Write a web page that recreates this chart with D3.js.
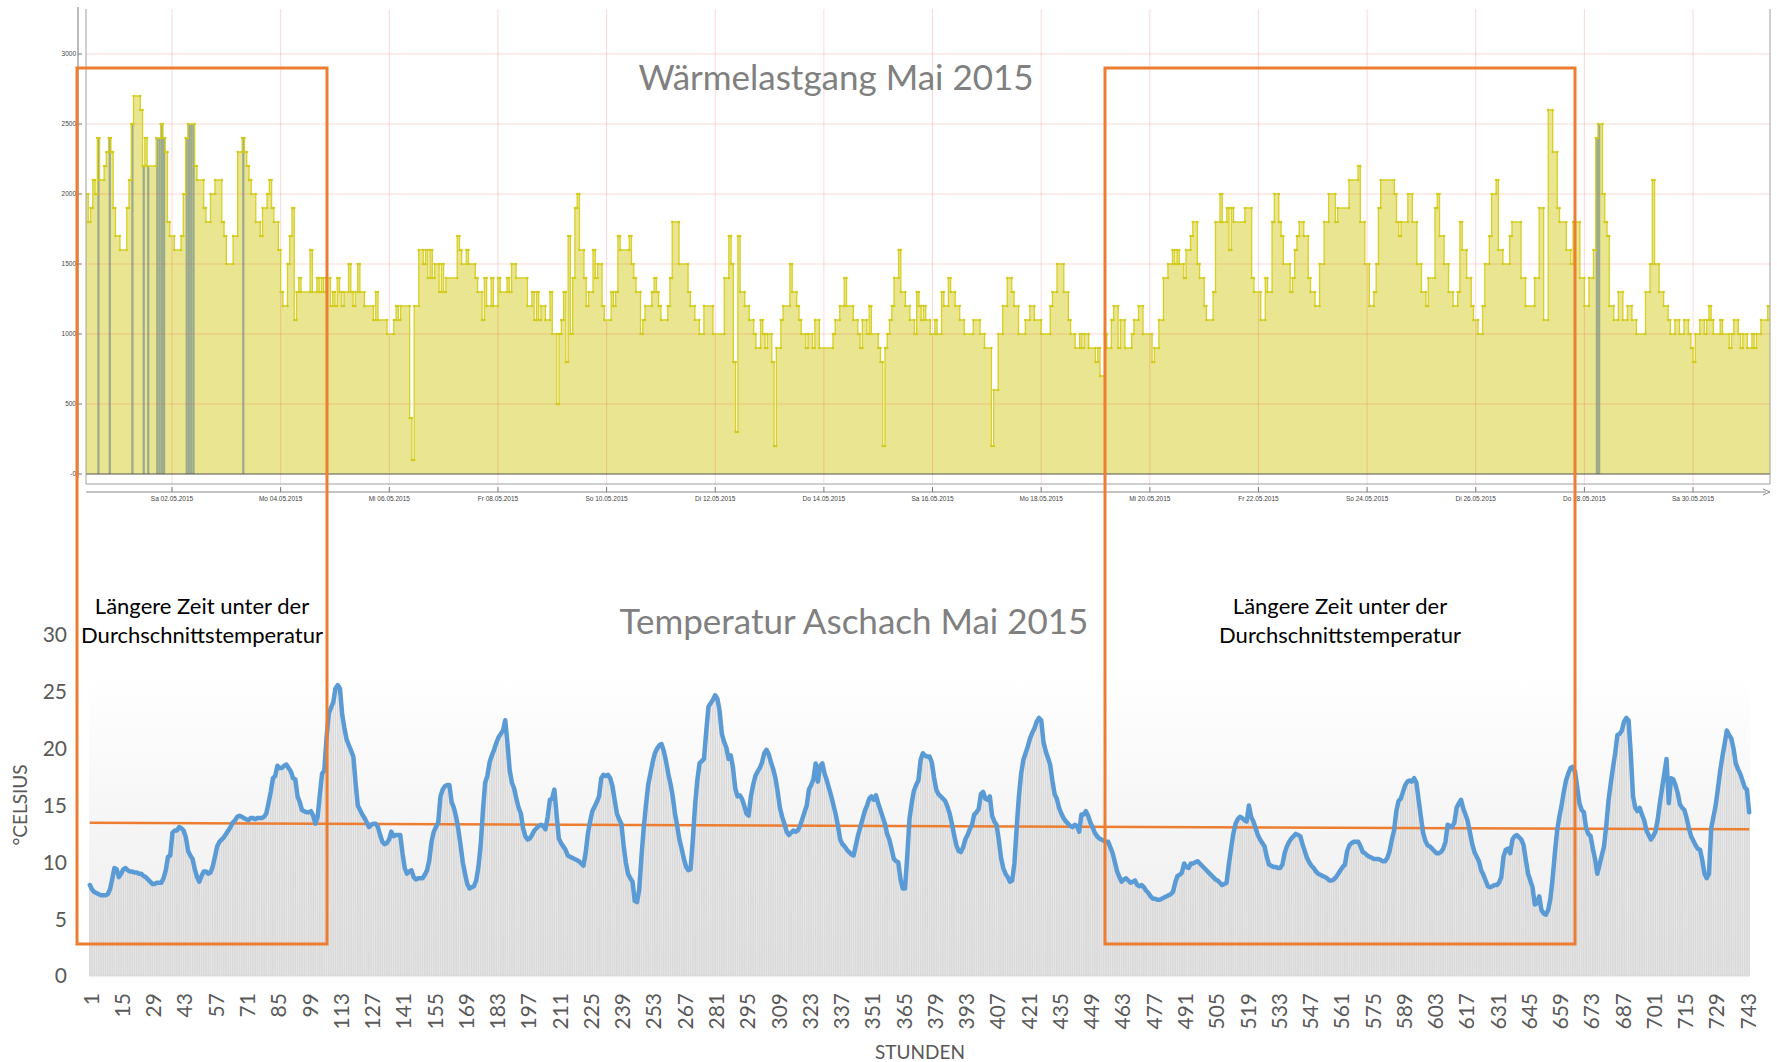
<!DOCTYPE html>
<html>
<head>
<meta charset="utf-8">
<title>Wärmelastgang und Temperatur Mai 2015</title>
<style>
  body { margin: 0; background: #fff; }
  svg { display: block; }
  .tiny { font-family: "Liberation Sans", Arial, sans-serif; font-size: 6.5px; fill: #444; }
</style>
</head>
<body>
<svg width="1777" height="1062"></svg>
<script src="https://d3js.org/d3.v7.min.js"></script>
<script>

// Wärmelast (kW), stündlich ab 30.04.2015 10:00
var heatLoad = [
  2000,1800,1900,2100,2000,2400,2100,2100,2200,2300,2400,2300,1900,1700,1700,1600,1600,1600,1900,2100,2500,2700,2700,2700,
  2600,2200,2400,2200,2200,2200,2200,2400,2400,2500,2400,2300,1800,1700,1700,1600,1600,1600,1700,2000,2400,2500,2500,2500,
  2200,2100,2100,2100,1900,1800,1800,2000,2000,2100,2100,2100,1800,1700,1500,1500,1500,1700,1700,2300,2300,2400,2300,2200,
  2100,2000,2000,1800,1800,1700,1900,1900,2000,2100,1900,1800,1800,1600,1300,1200,1200,1500,1700,1900,1100,1300,1400,1300,
  1300,1300,1300,1600,1300,1300,1400,1300,1400,1300,1400,1400,1200,1300,1200,1400,1300,1200,1300,1300,1500,1300,1200,1300,
  1500,1300,1300,1200,1200,1200,1200,1100,1300,1100,1100,1100,1100,1000,1000,1000,1100,1200,1100,1200,1200,1200,1200,400,
  100,1200,1200,1600,1600,1500,1600,1400,1600,1400,1500,1500,1300,1500,1300,1400,1400,1400,1400,1400,1700,1600,1500,1500,
  1600,1500,1500,1500,1400,1300,1300,1100,1400,1200,1200,1400,1200,1200,1400,1300,1300,1300,1400,1300,1500,1500,1400,1400,
  1400,1400,1400,1200,1200,1300,1100,1300,1100,1200,1200,1100,1100,1300,1000,1000,500,1000,1100,1300,800,1700,1000,1400,
  1900,2000,1600,1600,1400,1200,1300,1300,1600,1400,1500,1500,1200,1100,1100,1100,1300,1200,1300,1700,1600,1600,1600,1600,
  1700,1500,1400,1300,1300,1000,1100,1200,1200,1200,1300,1400,1300,1200,1100,1100,1100,1200,1400,1800,1800,1800,1500,1500,
  1500,1500,1300,1200,1200,1100,1100,1000,1000,1200,1200,1200,1200,1000,1000,1000,1000,1000,1400,1400,1700,1500,800,300,
  1700,1300,1300,1200,1200,1100,1100,1000,900,900,1100,1000,900,1000,1000,800,200,900,900,1100,1200,1200,1200,1500,
  1300,1300,1200,1100,1000,1000,900,1000,1000,900,1100,1100,900,900,900,900,900,900,1000,1100,1100,1200,1200,1400,
  1200,1200,1200,1100,1100,1000,900,1100,1100,1000,1200,1000,1000,1000,900,800,200,900,1000,1100,1200,1400,1400,1600,
  1300,1300,1200,1200,1100,1100,1000,1300,1200,1100,1200,1100,1100,1000,1000,1100,1000,1000,1300,1200,1200,1400,1300,1300,
  1200,1200,1100,1100,1000,1000,1000,1000,1100,1100,1100,1000,1000,900,900,900,200,600,600,1000,1000,1200,1200,1400,
  1400,1300,1200,1200,1000,1000,1000,1100,1100,1200,1200,1100,1100,1100,1000,1000,1000,1000,1200,1300,1300,1500,1500,1500,
  1300,1300,1100,1000,1000,900,900,1000,900,1000,1000,900,900,900,800,900,700,700,1000,900,900,1100,1200,1200,
  900,1100,1100,900,900,900,1000,1100,1100,1200,1200,1000,1000,1000,1000,800,900,900,1100,1100,1400,1400,1500,1500,
  1600,1500,1600,1500,1500,1400,1600,1600,1700,1800,1800,1500,1400,1400,1200,1100,1100,1100,1300,1800,1800,2000,1800,1800,
  1900,1600,1900,1800,1800,1800,1800,1800,1900,1900,1900,1400,1300,1300,1300,1100,1100,1400,1300,1300,1800,2000,2000,1800,
  1700,1500,1500,1500,1300,1400,1600,1700,1800,1800,1700,1700,1400,1300,1300,1200,1200,1500,1500,1800,1800,2000,2000,2000,
  1800,1900,1900,1900,1900,1900,2100,2100,2100,2100,2200,1800,1800,1500,1500,1200,1200,1300,1500,1900,2100,2100,2100,2100,
  2100,2100,2000,1800,1700,1800,1800,1800,2000,2000,1800,1800,1500,1500,1300,1300,1200,1400,1400,1400,1900,2000,1700,1700,
  1500,1500,1300,1300,1200,1200,1300,1800,1600,1600,1400,1400,1200,1100,1100,1000,1000,1200,1500,1500,1700,2000,2000,2100,
  1600,1600,1500,1500,1500,1700,1800,1800,1800,1800,1400,1400,1200,1200,1200,1200,1400,1400,1900,1900,1100,1100,2600,2600,
  2300,2300,1900,1800,1800,1800,1600,1600,1500,1800,1800,1800,1400,1400,1200,1200,1400,1400,1600,2400,2500,2500,2000,1800,
  1700,1200,1200,1100,1100,1300,1300,1100,1100,1200,1200,1100,1100,1000,1000,1000,1000,1300,1300,1500,2100,1500,1500,1300,
  1300,1200,1200,1100,1000,1000,1100,1100,1000,1000,1100,1100,1000,900,800,1000,1000,1100,1100,1000,1100,1200,1100,1000,
  1000,1000,1100,1000,1000,1000,900,1000,1100,1100,1000,900,1000,1000,900,900,1000,900,1000,1000,1100,1100,1100,1200
];

// Stunden, in denen der graugrüne Balken sichtbar ist
var greyHours = [5, 10, 20, 25, 27, 31, 32, 33, 34, 44, 45, 46, 47, 69, 667, 668];

var heatTicks = [0, 500, 1000, 1500, 2000, 2500, 3000];
var heatTickLabels = ["-0", "500", "1000", "1500", "2000", "2500", "3000"];
var dateLabels = ["Sa 02.05.2015", "Mo 04.05.2015", "Mi 06.05.2015", "Fr 08.05.2015", "So 10.05.2015",
  "Di 12.05.2015", "Do 14.05.2015", "Sa 16.05.2015", "Mo 18.05.2015", "Mi 20.05.2015",
  "Fr 22.05.2015", "So 24.05.2015", "Di 26.05.2015", "Do 28.05.2015", "Sa 30.05.2015"];

// Temperatur Aschach (°C), Stunde 1..744
var temperature = [
  8.0,7.6,7.4,7.3,7.2,7.1,7.1,7.1,7.2,7.6,8.5,9.5,9.4,8.7,9.0,9.4,9.5,9.3,9.2,9.2,9.1,9.1,9.0,9.0,
  8.8,8.7,8.5,8.3,8.1,8.1,8.2,8.2,8.2,8.6,9.3,10.5,10.6,12.6,12.8,12.8,13.1,13.0,12.8,12.2,11.0,10.6,10.3,9.4,
  8.7,8.3,8.8,9.2,9.2,9.0,9.1,9.6,10.5,11.4,11.8,12.0,12.2,12.5,12.8,13.1,13.5,13.7,14.0,14.1,14.0,13.9,13.8,13.7,
  13.9,13.9,13.8,13.9,13.9,13.9,14.0,14.3,15.2,16.2,17.4,17.6,18.5,18.3,18.3,18.5,18.6,18.3,18.0,17.4,17.3,15.8,15.3,14.6,
  14.5,14.4,14.4,14.5,14.1,13.4,14.0,16.0,17.8,18.1,21.0,23.1,23.6,24.1,25.3,25.6,25.3,23.0,21.8,20.8,20.3,19.8,19.3,17.0,
  15.0,14.6,14.2,13.9,13.5,13.1,13.3,13.4,13.4,13.1,12.4,11.8,11.6,11.7,12.0,12.7,12.3,12.4,12.4,12.4,10.8,9.5,9.0,9.2,
  9.3,8.7,8.5,8.6,8.6,8.6,8.9,9.3,10.2,11.8,12.7,13.1,13.5,15.8,16.4,16.7,16.8,16.8,15.3,14.8,14.0,12.9,11.5,10.0,
  9.0,8.1,7.7,7.8,7.9,8.4,9.6,11.5,14.5,17.0,17.6,18.8,19.4,19.9,20.5,21.0,21.3,21.6,22.5,20.5,18.1,17.0,16.5,15.6,
  14.8,14.3,13.0,12.3,12.0,12.1,12.4,12.8,13.0,13.2,13.3,13.2,12.9,14.0,15.5,15.6,16.4,14.2,12.1,11.7,11.4,11.1,10.6,10.5,
  10.4,10.3,10.2,10.1,9.9,9.7,10.8,12.5,13.6,14.5,14.9,15.3,15.8,17.4,17.7,17.6,17.7,17.4,16.7,15.5,14.3,13.8,13.4,11.5,
  10.0,9.0,8.6,8.3,6.6,6.5,7.6,10.5,13.0,15.0,16.8,17.8,18.8,19.6,20.0,20.3,20.4,19.8,18.9,17.8,16.9,15.8,14.3,13.2,
  12.0,11.2,10.3,9.6,9.3,9.4,12.0,15.0,17.2,18.7,18.9,19.1,21.5,23.7,24.0,24.3,24.7,24.4,23.3,21.3,20.6,20.1,19.1,19.4,
  18.3,16.5,15.8,15.9,15.6,15.0,14.3,14.1,15.8,16.8,17.6,18.0,18.3,18.8,19.6,19.9,19.5,18.8,18.2,17.4,16.2,14.8,14.0,13.4,
  12.7,12.4,12.6,12.8,12.7,12.8,13.2,13.8,14.4,15.0,16.4,16.8,17.3,18.7,17.1,18.5,18.7,17.8,17.2,16.5,15.8,15.0,14.2,13.2,
  12.0,11.6,11.4,11.1,10.9,10.7,10.6,11.5,12.4,13.1,13.8,14.5,15.0,15.6,15.8,15.5,15.9,15.2,14.6,14.0,13.4,12.5,12.0,11.2,
  10.3,10.1,10.0,8.5,7.7,7.7,10.5,13.8,15.2,16.3,16.8,17.2,19.0,19.6,19.4,19.3,19.3,18.8,17.5,16.4,16.0,15.8,15.6,15.4,
  14.9,14.3,13.4,12.4,11.5,11.0,10.9,11.3,12.0,12.4,12.9,13.3,14.2,14.4,14.7,16.0,16.2,15.6,15.5,15.8,14.1,13.6,13.3,12.0,
  10.4,9.5,9.0,8.7,8.3,8.4,9.9,13.0,15.8,17.8,19.0,19.6,20.2,20.9,21.4,21.8,22.4,22.7,22.5,20.6,19.8,19.2,18.6,17.2,
  16.0,15.6,14.8,14.3,13.9,13.6,13.4,13.2,13.1,13.3,13.2,12.7,14.2,14.2,14.5,14.1,13.5,13.1,12.6,12.3,12.1,12.0,11.9,11.8,
  11.8,11.3,10.8,10.0,9.2,8.7,8.3,8.5,8.6,8.4,8.2,8.3,8.4,8.0,7.9,8.0,7.8,7.5,7.3,7.0,6.8,6.8,6.7,6.7,
  6.8,6.9,7.0,7.1,7.2,7.4,8.2,8.8,8.9,9.1,9.9,9.6,9.5,9.9,9.9,10.0,10.1,9.9,9.7,9.5,9.3,9.1,8.9,8.7,
  8.5,8.4,8.2,8.0,8.1,8.2,9.8,11.2,12.5,13.4,13.8,14.0,13.9,13.7,13.6,15.0,14.0,13.6,13.0,12.4,12.0,11.7,11.4,10.5,
  9.8,9.7,9.6,9.6,9.5,9.5,9.8,10.8,11.4,11.8,12.1,12.3,12.5,12.4,12.3,11.6,11.0,10.4,10.0,9.7,9.5,9.2,9.0,8.9,
  8.8,8.7,8.6,8.4,8.4,8.5,8.7,9.0,9.3,9.6,9.8,11.0,11.5,11.7,11.8,11.8,11.8,11.4,10.9,10.8,10.6,10.5,10.4,10.3,
  10.3,10.3,10.2,10.1,10.1,10.4,11.0,12.0,12.8,14.5,15.4,15.6,16.2,16.8,17.1,17.2,17.1,17.4,17.0,15.5,14.0,12.6,11.9,11.5,
  11.4,11.2,11.0,10.8,10.8,10.9,11.2,11.8,13.3,13.2,13.1,13.5,14.8,15.2,15.5,14.7,14.2,13.6,12.6,11.6,10.9,10.5,10.1,9.3,
  8.9,8.4,7.9,7.8,7.9,8.0,8.0,8.2,8.7,10.5,11.1,11.2,10.8,12.0,12.3,12.4,12.2,12.0,11.5,10.2,9.0,8.4,7.8,6.3,
  6.4,7.0,5.8,5.5,5.4,5.8,6.8,8.6,10.8,12.8,14.0,15.0,16.2,17.2,17.8,18.3,18.4,18.0,16.6,15.2,14.6,14.4,13.0,12.5,
  12.3,11.2,10.3,9.0,9.8,10.6,11.4,13.2,15.4,16.9,18.3,19.6,21.2,21.3,21.6,22.4,22.7,22.5,19.5,15.8,14.8,14.5,14.8,14.2,
  13.7,12.8,12.4,12.0,12.3,12.7,13.7,15.2,16.5,17.8,19.1,15.2,17.4,17.3,16.8,16.1,15.1,14.8,14.6,13.9,13.0,12.3,11.9,11.5,
  11.2,11.1,10.2,9.0,8.6,9.0,13.0,14.0,15.0,16.5,18.0,19.3,20.4,21.6,21.2,20.9,20.0,18.7,18.2,17.8,17.2,16.6,16.4,14.4
];

// lineare Trendlinie (Anfang / Ende)
var trend = [13.48, 12.9];

var tempTicks = [0, 5, 10, 15, 20, 25, 30];
var hourLabels = [1, 15, 29, 43, 57, 71, 85, 99, 113, 127, 141, 155, 169, 183, 197, 211, 225, 239, 253, 267,
  281, 295, 309, 323, 337, 351, 365, 379, 393, 407, 421, 435, 449, 463, 477, 491, 505, 519, 533, 547,
  561, 575, 589, 603, 617, 631, 645, 659, 673, 687, 701, 715, 729, 743];

var svg = d3.select("svg");
var excel = "Lato, 'Open Sans', sans-serif";

// ================= oben: Wärmelastgang =================
var start = new Date(2015, 3, 30, 10);
var end = d3.timeHour.offset(start, heatLoad.length);
var xt = d3.scaleTime().domain([start, end]).range([86, 1770]);
var yh = d3.scaleLinear().domain([0, 3000]).range([474, 54]);

var heatPts = heatLoad.map(function(v, i) { return {t: d3.timeHour.offset(start, i), v: v}; });
heatPts.push({t: end, v: heatLoad[heatLoad.length - 1]});

var parseDay = d3.timeParse("%d.%m.%Y");
var dayTicks = dateLabels.map(function(s) { return {label: s, t: parseDay(s.slice(3))}; });

var gHeat = svg.append("g");

// Fläche
gHeat.append("path")
    .datum(heatPts)
    .attr("fill", "#e9e590")
    .attr("d", d3.area().curve(d3.curveStepAfter)
      .x(function(d) { return xt(d.t); })
      .y0(yh(0))
      .y1(function(d) { return yh(d.v); }));

// graugrüne Balken
gHeat.selectAll("rect.grey")
    .data(greyHours)
    .enter().append("rect")
      .attr("class", "grey")
      .attr("x", function(h) { return xt(heatPts[h].t); })
      .attr("width", function(h) { return xt(heatPts[h + 1].t) - xt(heatPts[h].t); })
      .attr("y", function(h) { return yh(heatLoad[h]); })
      .attr("height", function(h) { return yh(0) - yh(heatLoad[h]); })
      .attr("fill", "#9cab8c");

// Gitter
gHeat.selectAll("line.hg")
    .data(heatTicks.slice(1))
    .enter().append("line")
      .attr("x1", 86).attr("x2", 1770)
      .attr("y1", function(d) { return yh(d); })
      .attr("y2", function(d) { return yh(d); })
      .attr("stroke", "rgba(235,60,60,0.2)");
gHeat.selectAll("line.vg")
    .data(dayTicks)
    .enter().append("line")
      .attr("x1", function(d) { return xt(d.t); })
      .attr("x2", function(d) { return xt(d.t); })
      .attr("y1", 9).attr("y2", 484)
      .attr("stroke", "rgba(235,60,60,0.2)");

// Stufenlinie
gHeat.append("path")
    .datum(heatPts)
    .attr("fill", "none")
    .attr("stroke", "#d8d026")
    .attr("stroke-width", 1.3)
    .attr("d", d3.line().curve(d3.curveStepAfter)
      .x(function(d) { return xt(d.t); })
      .y(function(d) { return yh(d.v); }));

// Punkte an den Wechseln
var dots = [];
heatLoad.forEach(function(v, i) {
  if (i > 0 && v !== heatLoad[i - 1]) {
    dots.push({t: heatPts[i].t, v: heatLoad[i - 1]});
    dots.push({t: heatPts[i].t, v: v});
  }
});
gHeat.selectAll("circle")
    .data(dots)
    .enter().append("circle")
      .attr("cx", function(d) { return xt(d.t); })
      .attr("cy", function(d) { return yh(d.v); })
      .attr("r", 1.3)
      .attr("fill", "#d2ca1e");

// Nulllinie und Rahmen
gHeat.append("line")
    .attr("x1", 86).attr("x2", 1770)
    .attr("y1", yh(0)).attr("y2", yh(0))
    .attr("stroke", "#555").attr("stroke-width", 1.2);
gHeat.append("path")
    .attr("d", "M86,9V484H1770V9")
    .attr("fill", "none")
    .attr("stroke", "#a0a0a0");

// y-Achse
gHeat.append("line")
    .attr("x1", 78).attr("x2", 78).attr("y1", 7).attr("y2", 478)
    .attr("stroke", "#777");
gHeat.selectAll("line.yt")
    .data(heatTicks)
    .enter().append("line")
      .attr("x1", 78).attr("x2", 82)
      .attr("y1", function(d) { return yh(d); })
      .attr("y2", function(d) { return yh(d); })
      .attr("stroke", "#777");
gHeat.selectAll("text.yl")
    .data(heatTicks)
    .enter().append("text")
      .attr("class", "tiny")
      .attr("x", 76)
      .attr("y", function(d) { return yh(d); })
      .attr("dy", "0.35em")
      .attr("text-anchor", "end")
      .text(function(d, i) { return heatTickLabels[i]; });

// x-Achse
gHeat.append("line")
    .attr("x1", 86).attr("x2", 1766).attr("y1", 492).attr("y2", 492)
    .attr("stroke", "#888");
gHeat.append("path")
    .attr("d", "M1763,489L1770,492L1763,495")
    .attr("fill", "none").attr("stroke", "#888");
gHeat.selectAll("line.xt")
    .data(dayTicks)
    .enter().append("line")
      .attr("x1", function(d) { return xt(d.t); })
      .attr("x2", function(d) { return xt(d.t); })
      .attr("y1", 487).attr("y2", 492)
      .attr("stroke", "#777");
gHeat.selectAll("text.xl2")
    .data(dayTicks)
    .enter().append("text")
      .attr("class", "tiny")
      .attr("x", function(d) { return xt(d.t); })
      .attr("y", 501)
      .attr("text-anchor", "middle")
      .text(function(d) { return d.label; });

gHeat.append("text")
    .attr("x", 836).attr("y", 90)
    .attr("text-anchor", "middle")
    .style("font-family", excel).style("font-size", "35px")
    .attr("fill", "#808080")
    .text("Wärmelastgang Mai 2015");

// ================= unten: Temperatur =================
var hours = temperature.map(function(d, i) { return i + 1; });
var xb = d3.scaleBand().domain(hours).range([89, 1750]).paddingInner(0.25);
var yc = d3.scaleLinear().domain([0, 30]).range([976, 635]);
var cx = function(h) { return xb(h) + xb.bandwidth() / 2; };

var defs = svg.append("defs");
var grad = defs.append("linearGradient").attr("id", "bg").attr("x1", 0).attr("x2", 0).attr("y1", 0).attr("y2", 1);
grad.append("stop").attr("offset", "0%").attr("stop-color", "#ffffff");
grad.append("stop").attr("offset", "100%").attr("stop-color", "#ececec");

var gTemp = svg.append("g");

gTemp.append("rect")
    .attr("x", 89).attr("y", 675)
    .attr("width", 1750 - 89).attr("height", 976 - 675)
    .attr("fill", "url(#bg)");

gTemp.selectAll("rect.bar")
    .data(temperature)
    .enter().append("rect")
      .attr("class", "bar")
      .attr("x", function(d, i) { return xb(hours[i]); })
      .attr("width", xb.bandwidth())
      .attr("y", function(d) { return yc(d); })
      .attr("height", function(d) { return yc(0) - yc(d); })
      .attr("fill", "#d9d9d9");

gTemp.append("line")
    .attr("x1", 89).attr("x2", 1750).attr("y1", yc(0)).attr("y2", yc(0))
    .attr("stroke", "#d9d9d9");

gTemp.append("line")
    .attr("x1", cx(1)).attr("x2", cx(hours.length))
    .attr("y1", yc(trend[0])).attr("y2", yc(trend[1]))
    .attr("stroke", "#ed7d31").attr("stroke-width", 2.5);

gTemp.append("path")
    .datum(temperature)
    .attr("fill", "none")
    .attr("stroke", "#5b9bd5")
    .attr("stroke-width", 4.5)
    .attr("stroke-linejoin", "round")
    .attr("stroke-linecap", "round")
    .attr("d", d3.line()
      .x(function(d, i) { return cx(hours[i]); })
      .y(function(d) { return yc(d); }));

gTemp.selectAll("text.ty")
    .data(tempTicks)
    .enter().append("text")
      .attr("x", 67)
      .attr("y", function(d) { return yc(d); })
      .attr("dy", "0.35em")
      .attr("text-anchor", "end")
      .style("font-family", excel).style("font-size", "21px")
      .attr("fill", "#595959")
      .text(function(d) { return d; });

gTemp.selectAll("text.tx")
    .data(hourLabels)
    .enter().append("text")
      .attr("transform", function(d) { return "translate(" + cx(d) + ",993) rotate(-90)"; })
      .attr("dy", "0.42em")
      .attr("text-anchor", "end")
      .style("font-family", excel).style("font-size", "21px")
      .attr("fill", "#595959")
      .text(function(d) { return d; });

gTemp.append("text")
    .attr("transform", "translate(27,805) rotate(-90)")
    .attr("text-anchor", "middle")
    .style("font-family", excel).style("font-size", "19px")
    .attr("fill", "#595959")
    .text("°CELSIUS");

gTemp.append("text")
    .attr("x", 920).attr("y", 1059)
    .attr("text-anchor", "middle")
    .style("font-family", excel).style("font-size", "19px")
    .attr("fill", "#595959")
    .text("STUNDEN");

gTemp.append("text")
    .attr("x", 854).attr("y", 634)
    .attr("text-anchor", "middle")
    .style("font-family", excel).style("font-size", "35px")
    .attr("fill", "#808080")
    .text("Temperatur Aschach Mai 2015");

// ================= Markierungen =================
var marks = [
  {x0: 77, x1: 327, cx: 202},
  {x0: 1105, x1: 1575, cx: 1340}
];
var gMark = svg.append("g");
gMark.selectAll("rect")
    .data(marks)
    .enter().append("rect")
      .attr("x", function(d) { return d.x0; })
      .attr("y", 68)
      .attr("width", function(d) { return d.x1 - d.x0; })
      .attr("height", 944 - 68)
      .attr("fill", "none")
      .attr("stroke", "#ed7d31")
      .attr("stroke-width", 3);
marks.forEach(function(m) {
  var t = gMark.append("text")
      .attr("text-anchor", "middle")
      .style("font-family", excel).style("font-size", "22px")
      .attr("fill", "#000");
  t.append("tspan").attr("x", m.cx).attr("y", 614).text("Längere Zeit unter der");
  t.append("tspan").attr("x", m.cx).attr("y", 643).text("Durchschnittstemperatur");
});

</script>
</body>
</html>
